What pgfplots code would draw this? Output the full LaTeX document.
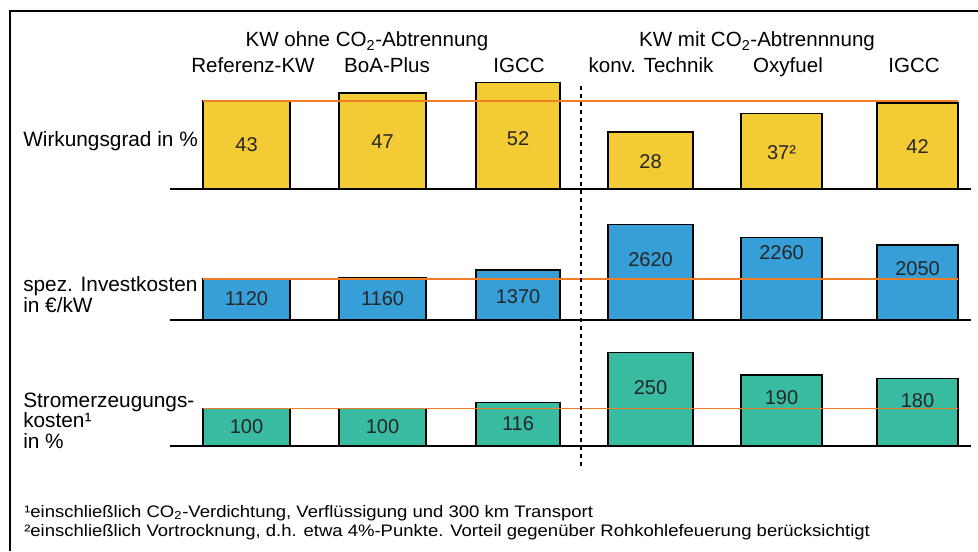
\documentclass[border=0pt]{standalone}
\usepackage{pgfplots}
\pgfplotsset{compat=1.18}
\usepackage{fontspec}
\setmainfont{Liberation Sans}
\definecolor{kwyellow}{HTML}{F2CB35}
\definecolor{kwblue}{HTML}{379FD8}
\definecolor{kwteal}{HTML}{38BBA1}
\definecolor{kworange}{HTML}{F07E26}
\newcommand\kwbar[4]{\addplot[ybar, bar shift=0pt, bar width=#2, fill=#4, draw=black, line width=1.2pt] coordinates {(#1,#3)};}
\pgfplotsset{kwrow/.style={scale only axis, width=600.75pt, xmin=170, xmax=971, ymin=0,
  hide axis, clip=false, anchor=south west},
  kwlab/.style={draw=none, mark=none, nodes near coords, point meta=explicit symbolic,
  nodes near coords align={center}, every node near coord/.append style={font=\fontsize{15}{17}\selectfont, text=black!85, inner sep=0pt}},
  kwline/.style={kworange, line width=1.3pt},
  kwbase/.style={black, line width=1.3pt}}
\newcommand\hfont{\fontsize{15.4}{18}\selectfont}
\newcommand\lfont{\fontsize{15.6}{18}\selectfont}
\newcommand\ffont{\fontsize{12.5}{14}\selectfont}

\pgfplotstableread{
x y label
246.5 21.5 43
382.5 23 47
518 24.5 52
650.5 13.2 28
781.5 18 37²
917.5 21 42
}\labA
\pgfplotstableread{
x y label
246.5 575 1120
382.5 575 1160
518 630 1370
650.5 1643 2620
781.5 1835 2260
917.5 1397 2050
}\labB
\pgfplotstableread{
x y label
246.5 51 100
382.5 51 100
518 61 116
650.5 157 250
781.5 128 190
917.5 120 180
}\labC

\begin{document}
\begin{tikzpicture}[x=0.75pt,y=0.75pt]
\useasboundingbox (0,0) rectangle (978,551);
% frame
\draw[line width=1.8pt] (10,0) -- (10,540) -- (978,540);

% Row 1: Wirkungsgrad
\begin{axis}[kwrow, at={(127.5pt,271.5pt)}, ymax=54, height=82.82pt]
\kwbar{246.5}{87}{43}{kwyellow}
\kwbar{382.5}{87}{47}{kwyellow}
\kwbar{518}{84}{52}{kwyellow}
\kwbar{650.5}{85}{28}{kwyellow}
\kwbar{781.5}{81}{37}{kwyellow}
\kwbar{917.5}{81}{42}{kwyellow}
\addplot[kwline] coordinates {(203,43) (958,43)};
\addplot[kwbase] coordinates {(170,0) (971,0)};
\addplot[kwlab] table[x=x, y=y, meta=label] {\labA};
\end{axis}

% Row 2: Investkosten
\begin{axis}[kwrow, at={(127.5pt,173.25pt)}, ymax=2800, height=76.67pt]
\kwbar{246.5}{87}{1120}{kwblue}
\kwbar{382.5}{87}{1160}{kwblue}
\kwbar{518}{84}{1370}{kwblue}
\kwbar{650.5}{85}{2620}{kwblue}
\kwbar{781.5}{81}{2260}{kwblue}
\kwbar{917.5}{81}{2050}{kwblue}
\addplot[kwlab] table[x=x, y=y, meta=label] {\labB};
\addplot[kwline] coordinates {(203,1120) (958,1120)};
\addplot[kwbase] coordinates {(170,0) (971,0)};
\end{axis}

% Row 3: Stromerzeugungskosten
\begin{axis}[kwrow, at={(127.5pt,78.75pt)}, ymax=270, height=75.87pt]
\kwbar{246.5}{87}{100}{kwteal}
\kwbar{382.5}{87}{100}{kwteal}
\kwbar{518}{84}{116}{kwteal}
\kwbar{650.5}{85}{250}{kwteal}
\kwbar{781.5}{81}{190}{kwteal}
\kwbar{917.5}{81}{180}{kwteal}
\addplot[kwlab] table[x=x, y=y, meta=label] {\labC};
\addplot[kwline] coordinates {(203,100) (958,100)};
\addplot[kwbase] coordinates {(170,0) (971,0)};
\end{axis}

% divider
\draw[line width=0.8pt, dash pattern=on 3pt off 3pt] (581,465) -- (581,81);

% headers
\node[anchor=base, font=\hfont, inner sep=0pt] at (367,504) {KW ohne CO\textsubscript{2}-Abtrennung};
\node[anchor=base, font=\hfont, inner sep=0pt] at (757,504) {KW mit CO\textsubscript{2}-Abtrennnung};
\node[anchor=base, font=\hfont, inner sep=0pt] at (253,478) {Referenz-KW};
\node[anchor=base, font=\hfont, inner sep=0pt] at (387,478) {BoA-Plus};
\node[anchor=base, font=\hfont, inner sep=0pt] at (519,478) {IGCC};
\node[anchor=base, font=\hfont, inner sep=0pt] at (651,478) {konv. Technik};
\node[anchor=base, font=\hfont, inner sep=0pt] at (788,478) {Oxyfuel};
\node[anchor=base, font=\hfont, inner sep=0pt] at (914,478) {IGCC};

% row labels
\node[anchor=base west, font=\lfont, inner sep=0pt] at (23,405) {Wirkungsgrad in \%};
\node[anchor=base west, font=\lfont, inner sep=0pt] at (23,260) {spez. Investkosten};
\node[anchor=base west, font=\lfont, inner sep=0pt] at (23,239) {in €/kW};
\node[anchor=base west, font=\lfont, inner sep=0pt] at (23,144) {Stromerzeugungs-};
\node[anchor=base west, font=\lfont, inner sep=0pt] at (23,124) {kosten¹};
\node[anchor=base west, font=\lfont, inner sep=0pt] at (23,103) {in \%};

% footnotes
\node[anchor=base west, font=\ffont, inner sep=0pt, xscale=1.11] at (24,34) {¹einschließlich CO\textsubscript{2}-Verdichtung, Verflüssigung und 300 km Transport};
\node[anchor=base west, font=\ffont, inner sep=0pt, xscale=1.11] at (24,15) {²einschließlich Vortrocknung, d.h. etwa 4\%-Punkte. Vorteil gegenüber Rohkohlefeuerung berücksichtigt};
\end{tikzpicture}
\end{document}
